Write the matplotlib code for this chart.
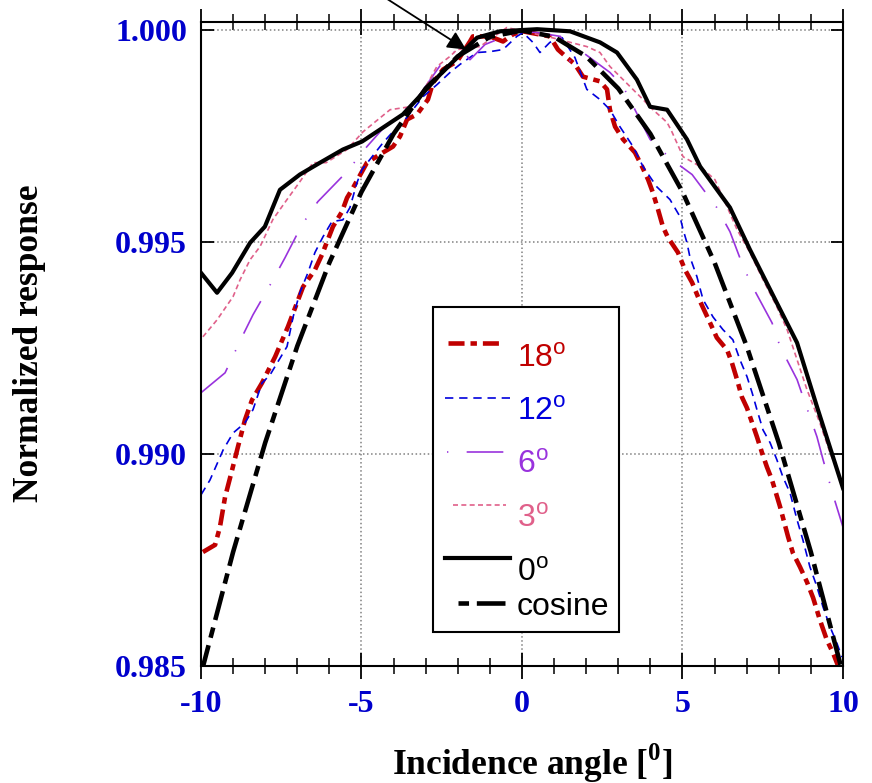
import numpy as np
import matplotlib
matplotlib.use("Agg")
import matplotlib.pyplot as plt
from matplotlib.ticker import MultipleLocator, FixedLocator
from matplotlib.patches import Rectangle

plt.rcParams['mathtext.fontset'] = 'custom'
plt.rcParams['mathtext.rm'] = 'Liberation Sans'
plt.rcParams['mathtext.bf'] = 'Liberation Serif:bold'

# incidence angle [deg] and normalized response for each tilt
ang_18 = [-9.94, -9.56, -9.41, -9.25, -9.03, -8.85, -8.63, -8.41, -8.10, -7.69, -7.29, -6.82, -6.45,
          -6.23, -5.89, -5.61, -5.45, -5.26, -4.83, -4.33, -4.02, -3.80, -3.58, -3.27, -2.93, -2.77,
          -2.46, -2.02, -1.62, -1.53, -1.00, -0.59, -0.28, 0.03, 0.87, 1.12, 1.40, 1.65, 1.90, 2.43,
          2.65, 2.74, 2.90, 3.15, 3.52, 3.74, 3.93, 4.08, 4.24, 4.39, 4.55, 4.86, 5.08, 5.30, 5.48,
          5.70, 5.86, 6.07, 6.39, 6.54, 6.70, 6.85, 7.01, 7.17, 7.32, 7.48, 7.63, 7.79, 8.04, 8.29,
          8.44, 8.66, 8.88, 9.07, 9.28, 9.50, 9.69, 9.84]
resp_18 = [0.98769, 0.98786, 0.98828, 0.98899, 0.98963, 0.99017, 0.99081, 0.99128, 0.99168, 0.99230,
           0.99301, 0.99395, 0.99435, 0.99471, 0.99537, 0.99572, 0.99605, 0.99629, 0.99688, 0.99712,
           0.99726, 0.99750, 0.99790, 0.99802, 0.99837, 0.99877, 0.99908, 0.99927, 0.99974, 0.99986,
           0.99986, 0.99974, 0.99991, 0.99998, 0.99986, 0.99955, 0.99936, 0.99920, 0.99891, 0.99880,
           0.99861, 0.99813, 0.99773, 0.99743, 0.99712, 0.99679, 0.99648, 0.99617, 0.99577, 0.99537,
           0.99511, 0.99476, 0.99435, 0.99405, 0.99372, 0.99336, 0.99310, 0.99275, 0.99246, 0.99216,
           0.99176, 0.99135, 0.99109, 0.99074, 0.99041, 0.99003, 0.98970, 0.98939, 0.98876, 0.98805,
           0.98767, 0.98734, 0.98698, 0.98661, 0.98609, 0.98561, 0.98531, 0.98502]

ang_12 = [-10.0, -9.72, -9.31, -9.00, -8.63, -8.38, -8.10, -7.85, -7.32, -7.13, -6.92, -6.67, -6.45,
          -6.20, -5.92, -5.58, -5.36, -5.14, -4.98, -4.67, -4.33, -4.02, -3.71, -3.08, -2.65, -2.24,
          -1.93, -1.40, -1.00, -0.59, -0.16, 0.03, 0.34, 0.56, 0.87, 1.25, 1.65, 2.02, 2.43, 2.74,
          3.05, 3.46, 3.77, 4.20, 4.61, 4.92, 5.02, 5.14, 5.23, 5.45, 5.64, 5.95, 6.26, 6.57, 6.79,
          7.01, 7.17, 7.32, 7.51, 7.73, 7.94, 8.13, 8.35, 8.57, 8.75, 8.97, 9.19, 9.38, 9.60, 9.81, 9.97]
resp_12 = [0.98904, 0.98939, 0.99010, 0.99050, 0.99074, 0.99105, 0.99168, 0.99187, 0.99254, 0.99324,
           0.99381, 0.99428, 0.99476, 0.99513, 0.99549, 0.99553, 0.99582, 0.99641, 0.99672, 0.99702,
           0.99735, 0.99761, 0.99783, 0.99844, 0.99872, 0.99901, 0.99920, 0.99948, 0.99950, 0.99955,
           0.99986, 0.99995, 0.99972, 0.99948, 0.99972, 0.99983, 0.99936, 0.99861, 0.99837, 0.99813,
           0.99773, 0.99726, 0.99679, 0.99631, 0.99601, 0.99561, 0.99530, 0.99499, 0.99466, 0.99419,
           0.99365, 0.99324, 0.99294, 0.99270, 0.99223, 0.99183, 0.99145, 0.99105, 0.99057, 0.99027,
           0.98987, 0.98946, 0.98909, 0.98845, 0.98798, 0.98734, 0.98687, 0.98639, 0.98592, 0.98554,
           0.98521]

ang_6 = [-10.0, -9.25, -8.72, -8.38, -7.79, -7.38, -6.85, -6.36, -5.45, -4.83, -4.36, -3.70, -3.18,
         -2.46, -1.93, -1.62, -1.15, -0.53, 0.03, 0.47, 1.20, 1.50, 1.90, 2.74, 3.15, 3.99, 4.67,
         5.30, 6.07, 6.48, 6.89, 7.20, 7.79, 8.04, 8.57, 8.82, 9.19, 9.38, 9.69, 10.0]
resp_6 = [0.99145, 0.99192, 0.99277, 0.99329, 0.99407, 0.99464, 0.99542, 0.99596, 0.99667, 0.99726,
          0.99766, 0.99808, 0.99849, 0.99927, 0.99960, 0.99931, 0.99967, 0.99986, 0.99998, 0.99995,
          0.99986, 0.99927, 0.99948, 0.99901, 0.99868, 0.99743, 0.99695, 0.99660, 0.99582, 0.99525,
          0.99443, 0.99393, 0.99310, 0.99254, 0.99176, 0.99121, 0.99041, 0.98987, 0.98904, 0.98828]

ang_3 = [-9.94, -9.50, -9.00, -8.78, -8.47, -8.16, -7.76, -7.32, -6.92, -6.51, -6.10, -5.45, -4.95,
         -4.11, -3.49, -3.08, -2.65, -2.24, -2.02, -1.31, -0.47, 0.03, 0.78, 1.40, 2.02, 2.43, 2.74,
         3.15, 3.68, 4.08, 4.52, 4.67, 5.02, 5.55, 6.01, 6.39, 6.70, 7.10, 7.51, 7.94, 8.26, 8.57,
         8.88, 9.28, 9.60, 9.91]
resp_3 = [0.99277, 0.99317, 0.99372, 0.99412, 0.99459, 0.99490, 0.99554, 0.99601, 0.99643, 0.99688,
          0.99688, 0.99719, 0.99761, 0.99813, 0.99820, 0.99856, 0.99915, 0.99939, 0.99955, 0.99962,
          1.00007, 0.99998, 0.99986, 0.99974, 0.99962, 0.99948, 0.99915, 0.99884, 0.99844, 0.99813,
          0.99783, 0.99761, 0.99702, 0.99679, 0.99648, 0.99584, 0.99530, 0.99476, 0.99412, 0.99348,
          0.99294, 0.99223, 0.99152, 0.99074, 0.99003, 0.98946]

ang_0 = [-10.0, -9.50, -9.03, -8.47, -8.01, -7.54, -6.92, -6.29, -5.58, -4.98, -3.71, -2.55, -1.40,
         -0.69, 0.47, 1.50, 2.43, 2.96, 3.58, 3.99, 4.52, 5.14, 5.55, 6.48, 7.10, 7.94, 8.57, 9.19, 10.0]
resp_0 = [0.99428, 0.99381, 0.99428, 0.99499, 0.99537, 0.99624, 0.99660, 0.99688, 0.99719, 0.99738,
          0.99802, 0.99896, 0.99983, 0.99998, 1.00003, 0.99998, 0.99972, 0.99948, 0.99884, 0.99820,
          0.99813, 0.99743, 0.99679, 0.99582, 0.99483, 0.99357, 0.99263, 0.99112, 0.98920]

ang_cos = [-10, -9, -8, -7, -6, -5, -4, -3, -2, -1, 0, 1, 2, 3, 4, 5, 6, 7, 8, 9, 10]
resp_cos = [0.98481, 0.98769, 0.99027, 0.99255, 0.99452, 0.99619, 0.99756, 0.99863, 0.99939, 0.99985,
            1.00000, 0.99985, 0.99939, 0.99863, 0.99756, 0.99619, 0.99452, 0.99255, 0.99027, 0.98769,
            0.98481]

labels = [r'18$^{\mathrm{o}}$', r'12$^{\mathrm{o}}$', r'6$^{\mathrm{o}}$',
          r'3$^{\mathrm{o}}$', r'0$^{\mathrm{o}}$', 'cosine']
x_ticks = [-10, -5, 0, 5, 10]
y_ticks = [0.985, 0.990, 0.995, 1.000]

colors = ['#c00000', '#0000dd', '#9933dd', '#e0608a', 'black', 'black']
widths = [3.3, 1.2, 1.2, 1.2, 3.0, 3.3]
dash_patterns = [(3.5, 1.3, 1.4, 1.3), (5, 3.5), (22, 11, 0.8, 11), (3, 2), None, (6.5, 1.7, 2.3, 1.7)]
key_offsets = [0, 0, 33, 0, 0, 8.2]   # where the dash pattern starts in the legend key

series = [(ang_18, resp_18), (ang_12, resp_12), (ang_6, resp_6),
          (ang_3, resp_3), (ang_0, resp_0), (ang_cos, resp_cos)]

fig = plt.figure(figsize=(8.72, 7.83), dpi=100)
ax = fig.add_axes([0.2305, 0.1494, 0.7362, 0.8225])

for (x, y), col, lw, dp in zip(series, colors, widths, dash_patterns):
    ax.plot(x, y, color=col, lw=lw, linestyle='-' if dp is None else (0, dp))

ax.set_xlim(-10, 10)
ax.set_ylim(0.985, 1.0002)

ax.xaxis.set_major_locator(FixedLocator(x_ticks))
ax.xaxis.set_minor_locator(MultipleLocator(1))
ax.yaxis.set_major_locator(FixedLocator(y_ticks))
ax.set_yticklabels(['%.3f' % v for v in y_ticks])
ax.set_xticklabels([str(v) for v in x_ticks])

for lab in ax.get_xticklabels() + ax.get_yticklabels():
    lab.set_fontfamily('Liberation Serif')
    lab.set_fontweight('bold')
    lab.set_fontsize(23)
    lab.set_color('#0000cc')

ax.tick_params(axis='x', which='major', direction='inout', length=19, width=1.3,
               top=True, bottom=True, pad=8)
ax.tick_params(axis='x', which='minor', direction='inout', length=11.5, width=1.1,
               top=True, bottom=True)
ax.tick_params(axis='y', which='major', direction='in', length=9, width=1.3,
               left=True, right=True, pad=10)

for sp in ax.spines.values():
    sp.set_linewidth(1.5)

ax.grid(True, which='major', linestyle=':', color='gray', linewidth=1.1)

# hand-built legend box, axes fraction coordinates
ax.add_patch(Rectangle((0.361, 0.053), 0.290, 0.504, transform=ax.transAxes,
                       facecolor='white', edgecolor='black', lw=1.5, zorder=5))
key_y = [0.5016, 0.4161, 0.3323, 0.2500, 0.1677, 0.0978]
key_x = [(0.385, 0.466), (0.380, 0.481), (0.383, 0.478), (0.393, 0.475), (0.380, 0.481), (0.400, 0.474)]
text_base = [0.4643, 0.3820, 0.2997, 0.2158, 0.1320, 0.0792]
for i, lab in enumerate(labels):
    dp = dash_patterns[i]
    ls = '-' if dp is None else (key_offsets[i], dp)
    ax.plot(key_x[i], [key_y[i], key_y[i]], transform=ax.transAxes, color=colors[i],
            lw=widths[i], linestyle=ls, zorder=6, clip_on=False)
    ax.text(0.492, text_base[i], lab, transform=ax.transAxes, color=colors[i], ha='left',
            va='baseline', family='Liberation Sans', size=23, zorder=6)

ax.annotate('', xy=(-1.74, 0.99955), xytext=(-4.42, 1.00085), annotation_clip=False,
            arrowprops=dict(arrowstyle='-|>', color='black', lw=1.3, mutation_scale=28,
                            shrinkA=0, shrinkB=0))

fig.text(30 / 872, 1 - 343 / 783, 'Normalized response', rotation=90, ha='center', va='center',
         family='Liberation Serif', weight='bold', size=25.5)
fig.text(532 / 872, 1 - 763 / 783, r'Incidence angle [$^{\mathbf{0}}$]', ha='center', va='center',
         family='Liberation Serif', weight='bold', size=25.5)

fig.savefig('out.png', dpi=100)
